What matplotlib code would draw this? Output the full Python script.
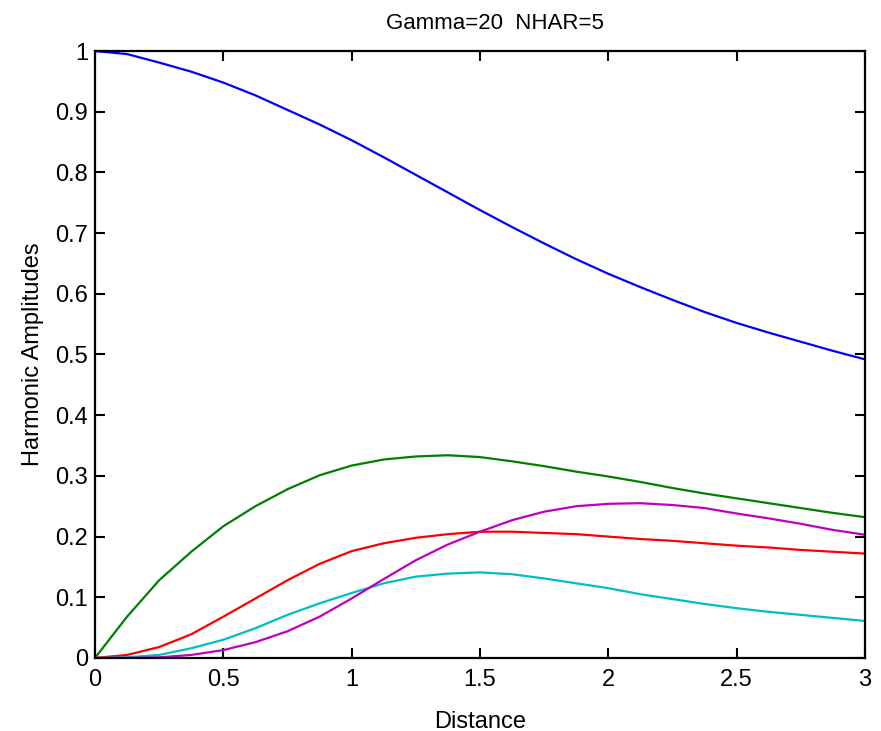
import matplotlib
matplotlib.use('Agg')
import matplotlib.pyplot as plt
import numpy as np

plt.rcParams['font.family'] = ['Liberation Sans', 'DejaVu Sans']

# distance samples (step 0.125)
distance = [0, 0.125, 0.25, 0.375, 0.5, 0.625, 0.75, 0.875, 1.0, 1.125, 1.25, 1.375,
            1.5, 1.625, 1.75, 1.875, 2.0, 2.125, 2.25, 2.375, 2.5, 2.625, 2.75, 2.875, 3.0]

h1 = [1.0, 0.995, 0.981, 0.966, 0.948, 0.927, 0.903, 0.879, 0.853, 0.825, 0.796, 0.767,
      0.738, 0.710, 0.683, 0.657, 0.633, 0.611, 0.590, 0.570, 0.552, 0.536, 0.521, 0.506, 0.492]
h2 = [0.0, 0.068, 0.128, 0.175, 0.217, 0.250, 0.278, 0.301, 0.317, 0.327, 0.332, 0.334,
      0.331, 0.324, 0.316, 0.307, 0.299, 0.290, 0.280, 0.271, 0.263, 0.255, 0.247, 0.239, 0.232]
h3 = [0.0, 0.005, 0.018, 0.039, 0.068, 0.098, 0.128, 0.155, 0.176, 0.189, 0.198, 0.204,
      0.208, 0.208, 0.206, 0.204, 0.200, 0.196, 0.193, 0.189, 0.185, 0.182, 0.178, 0.175, 0.172]
h4 = [0.0, 0.001, 0.005, 0.016, 0.030, 0.049, 0.071, 0.090, 0.107, 0.123, 0.134, 0.139,
      0.141, 0.138, 0.131, 0.123, 0.115, 0.105, 0.097, 0.089, 0.082, 0.076, 0.071, 0.066, 0.061]
h5 = [0.0, 0.0, 0.001, 0.005, 0.013, 0.026, 0.044, 0.068, 0.098, 0.130, 0.161, 0.187,
      0.208, 0.227, 0.241, 0.250, 0.254, 0.255, 0.252, 0.247, 0.238, 0.230, 0.221, 0.211, 0.203]

series = [h1, h2, h3, h4, h5]
colors = ['#0000ff', '#008000', '#ff0000', '#00bfbf', '#bf00bf']

fig = plt.figure(figsize=(8.81, 7.31), dpi=100)
ax = fig.add_axes([0.1078, 0.0999, 0.874, 0.8303])

for s, c in zip(series, colors):
    ax.plot(distance, s, color=c, linewidth=1.6)

ax.set_xlim(0, 3)
ax.set_ylim(0, 1)
ax.set_xticks(np.arange(0, 3.01, 0.5))
ax.set_yticks(np.arange(0, 1.01, 0.1))
ax.set_xticklabels(['0', '0.5', '1', '1.5', '2', '2.5', '3'])
ax.set_yticklabels(['0', '0.1', '0.2', '0.3', '0.4', '0.5', '0.6', '0.7', '0.8', '0.9', '1'])
ax.tick_params(direction='in', length=7, width=1.5, labelsize=17, top=True, right=True, pad=5)
ax.tick_params(axis='x', pad=8)
for sp in ax.spines.values():
    sp.set_linewidth(1.6)

ax.set_xlabel('Distance', fontsize=17, labelpad=14)
ax.set_ylabel('Harmonic Amplitudes', fontsize=17, labelpad=8)
ax.set_title('Gamma=20  NHAR=5', fontsize=16, pad=16, x=0.52)

fig.savefig('out.png', dpi=100)
